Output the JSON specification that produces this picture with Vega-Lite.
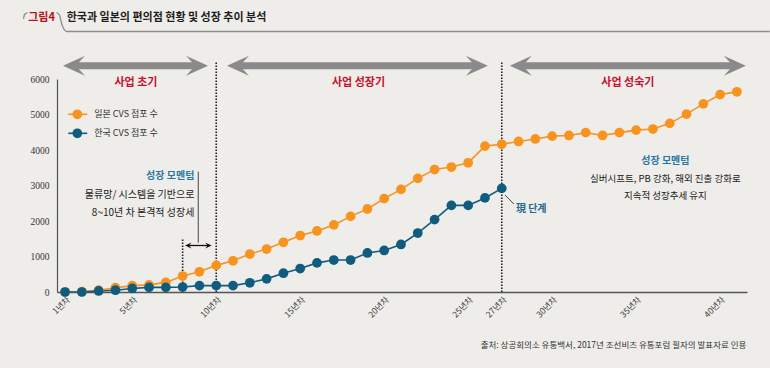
{
  "$schema": "https://vega.github.io/schema/vega-lite/v6.json",
  "autosize": {"type": "none"},
  "padding": {"left": 57, "top": 79, "right": 23, "bottom": 76},
  "width": 690,
  "height": 213,
  "background": "#eeede9",
  "config": {"view": {"stroke": null}, "font": "Noto Sans CJK KR", "axisY": {"labelOverlap": false}},
  "datasets": {
    "stores": [
      {"year": 1, "count": 0, "series": "일본 CVS 점포 수"},
      {"year": 2, "count": 10, "series": "일본 CVS 점포 수"},
      {"year": 3, "count": 50, "series": "일본 CVS 점포 수"},
      {"year": 4, "count": 120, "series": "일본 CVS 점포 수"},
      {"year": 5, "count": 180, "series": "일본 CVS 점포 수"},
      {"year": 6, "count": 200, "series": "일본 CVS 점포 수"},
      {"year": 7, "count": 270, "series": "일본 CVS 점포 수"},
      {"year": 8, "count": 450, "series": "일본 CVS 점포 수"},
      {"year": 9, "count": 570, "series": "일본 CVS 점포 수"},
      {"year": 10, "count": 750, "series": "일본 CVS 점포 수"},
      {"year": 11, "count": 880, "series": "일본 CVS 점포 수"},
      {"year": 12, "count": 1070, "series": "일본 CVS 점포 수"},
      {"year": 13, "count": 1210, "series": "일본 CVS 점포 수"},
      {"year": 14, "count": 1400, "series": "일본 CVS 점포 수"},
      {"year": 15, "count": 1590, "series": "일본 CVS 점포 수"},
      {"year": 16, "count": 1720, "series": "일본 CVS 점포 수"},
      {"year": 17, "count": 1890, "series": "일본 CVS 점포 수"},
      {"year": 18, "count": 2130, "series": "일본 CVS 점포 수"},
      {"year": 19, "count": 2340, "series": "일본 CVS 점포 수"},
      {"year": 20, "count": 2630, "series": "일본 CVS 점포 수"},
      {"year": 21, "count": 2890, "series": "일본 CVS 점포 수"},
      {"year": 22, "count": 3200, "series": "일본 CVS 점포 수"},
      {"year": 23, "count": 3450, "series": "일본 CVS 점포 수"},
      {"year": 24, "count": 3520, "series": "일본 CVS 점포 수"},
      {"year": 25, "count": 3640, "series": "일본 CVS 점포 수"},
      {"year": 26, "count": 4110, "series": "일본 CVS 점포 수"},
      {"year": 27, "count": 4160, "series": "일본 CVS 점포 수"},
      {"year": 28, "count": 4240, "series": "일본 CVS 점포 수"},
      {"year": 29, "count": 4310, "series": "일본 CVS 점포 수"},
      {"year": 30, "count": 4390, "series": "일본 CVS 점포 수"},
      {"year": 31, "count": 4410, "series": "일본 CVS 점포 수"},
      {"year": 32, "count": 4490, "series": "일본 CVS 점포 수"},
      {"year": 33, "count": 4410, "series": "일본 CVS 점포 수"},
      {"year": 34, "count": 4490, "series": "일본 CVS 점포 수"},
      {"year": 35, "count": 4560, "series": "일본 CVS 점포 수"},
      {"year": 36, "count": 4590, "series": "일본 CVS 점포 수"},
      {"year": 37, "count": 4750, "series": "일본 CVS 점포 수"},
      {"year": 38, "count": 5010, "series": "일본 CVS 점포 수"},
      {"year": 39, "count": 5300, "series": "일본 CVS 점포 수"},
      {"year": 40, "count": 5560, "series": "일본 CVS 점포 수"},
      {"year": 41, "count": 5640, "series": "일본 CVS 점포 수"},
      {"year": 1, "count": 0, "series": "한국 CVS 점포 수"},
      {"year": 2, "count": 0, "series": "한국 CVS 점포 수"},
      {"year": 3, "count": 30, "series": "한국 CVS 점포 수"},
      {"year": 4, "count": 50, "series": "한국 CVS 점포 수"},
      {"year": 5, "count": 100, "series": "한국 CVS 점포 수"},
      {"year": 6, "count": 130, "series": "한국 CVS 점포 수"},
      {"year": 7, "count": 130, "series": "한국 CVS 점포 수"},
      {"year": 8, "count": 140, "series": "한국 CVS 점포 수"},
      {"year": 9, "count": 180, "series": "한국 CVS 점포 수"},
      {"year": 10, "count": 180, "series": "한국 CVS 점포 수"},
      {"year": 11, "count": 180, "series": "한국 CVS 점포 수"},
      {"year": 12, "count": 260, "series": "한국 CVS 점포 수"},
      {"year": 13, "count": 370, "series": "한국 CVS 점포 수"},
      {"year": 14, "count": 530, "series": "한국 CVS 점포 수"},
      {"year": 15, "count": 660, "series": "한국 CVS 점포 수"},
      {"year": 16, "count": 820, "series": "한국 CVS 점포 수"},
      {"year": 17, "count": 900, "series": "한국 CVS 점포 수"},
      {"year": 18, "count": 900, "series": "한국 CVS 점포 수"},
      {"year": 19, "count": 1100, "series": "한국 CVS 점포 수"},
      {"year": 20, "count": 1170, "series": "한국 CVS 점포 수"},
      {"year": 21, "count": 1340, "series": "한국 CVS 점포 수"},
      {"year": 22, "count": 1660, "series": "한국 CVS 점포 수"},
      {"year": 23, "count": 2040, "series": "한국 CVS 점포 수"},
      {"year": 24, "count": 2440, "series": "한국 CVS 점포 수"},
      {"year": 25, "count": 2440, "series": "한국 CVS 점포 수"},
      {"year": 26, "count": 2650, "series": "한국 CVS 점포 수"},
      {"year": 27, "count": 2920, "series": "한국 CVS 점포 수"}
    ],
    "arrowBodies": [
      {"x": 1.77, "x2": 8.617, "y": 6375},
      {"x": 11.533, "x2": 25.277, "y": 6375},
      {"x": 28.373, "x2": 40.637, "y": 6375}
    ],
    "arrowHeads": [
      {"x": 0.877, "y": 6375, "dir": "L"},
      {"x": 9.51, "y": 6375, "dir": "R"},
      {"x": 10.64, "y": 6375, "dir": "L"},
      {"x": 26.17, "y": 6375, "dir": "R"},
      {"x": 27.48, "y": 6375, "dir": "L"},
      {"x": 41.53, "y": 6375, "dir": "R"}
    ],
    "dotted": [
      {"x": 10, "y": 0, "y2": 6507},
      {"x": 27, "y": 0, "y2": 6507},
      {"x": 8, "y": 0, "y2": 1493}
    ],
    "smallBody": [{"x": 8.4, "x2": 9.47, "y": 1310}],
    "smallHeads": [
      {"x": 8.14, "y": 1310, "dir": "L"},
      {"x": 9.73, "y": 1310, "dir": "R"}
    ],
    "connectors": [
      {"x": 8.93, "y": 1389, "x2": 8.93, "y2": 3389},
      {"x": 27.19, "y": 2732, "x2": 27.72, "y2": 2479}
    ],
    "legendRows": [
      {"x": 1.19, "x2": 2.32, "xp": 1.73, "xt": 2.74, "y": 5006, "series": "일본 CVS 점포 수"},
      {"x": 1.19, "x2": 2.32, "xp": 1.73, "xt": 2.74, "y": 4470, "series": "한국 CVS 점포 수"}
    ],
    "phases": [
      {"x": 5.22, "y": 5890, "label": "사업 초기"},
      {"x": 18.47, "y": 5890, "label": "사업 성장기"},
      {"x": 34.51, "y": 5890, "label": "사업 성숙기"}
    ],
    "leftHead": [{"x": 8.7, "y": 3268, "label": "성장 모멘텀"}],
    "leftBody": [
      {"x": 8.7, "y": 2732, "label": "물류망/ 시스템을 기반으로"},
      {"x": 8.7, "y": 2234, "label": "8~10년 차 본격적 성장세"}
    ],
    "rightHead": [{"x": 36.74, "y": 3704, "label": "성장 모멘텀"}],
    "rightBody": [
      {"x": 36.74, "y": 3192, "label": "실버시프트, PB 강화, 해외 진출 강화로"},
      {"x": 36.74, "y": 2704, "label": "지속적 성장추세 유지"}
    ],
    "nowLabel": [{"x": 27.84, "y": 2338, "label": "現 단계"}],
    "source": [{"x": 41.56, "y": -1493, "label": "출처: 상공회의소 유통백서, 2017년 조선비즈 유통포럼 필자의 발표자료 인용"}],
    "figLabel": [{"x": -0.403, "y": 7718, "label": "그림4"}],
    "titleText": [{"x": 1.097, "y": 7718, "label": "한국과 일본의 편의점 현황 및 성장 추이 분석"}],
    "titleLine": [
      {"x": -1.474, "y": 7690, "part": "left"},
      {"x": -1.414, "y": 7817, "part": "left"},
      {"x": -1.236, "y": 7873, "part": "left"},
      {"x": 0.49, "y": 7873, "part": "right"},
      {"x": 0.669, "y": 7803, "part": "right"},
      {"x": 0.758, "y": 7634, "part": "right"},
      {"x": 0.878, "y": 7451, "part": "right"},
      {"x": 1.115, "y": 7338, "part": "right"},
      {"x": 42.96, "y": 7338, "part": "right"}
    ]
  },
  "layer": [
    {
      "data": {"name": "titleLine"},
      "mark": {"type": "line", "interpolate": "monotone", "strokeWidth": 1.3, "color": "#8d8d8d"},
      "encoding": {
        "x": {"field": "x", "type": "quantitative", "scale": {"domain": [0.52, 41.6], "nice": false, "zero": false}, "title": null,
          "axis": {"values": [1, 5, 10, 15, 20, 25, 27, 30, 35, 40], "labelExpr": "datum.value + '년차'", "labelAngle": -45, "labelFontSize": 8.5, "labelColor": "#444444", "labelFont": "Noto Sans CJK KR", "labelOverlap": false, "ticks": false, "grid": false, "domainColor": "#555555", "domainWidth": 1.5, "labelPadding": 3}},
        "y": {"field": "y", "type": "quantitative", "scale": {"domain": [0, 6000], "nice": false}, "title": null,
          "axis": {"values": [0, 1000, 2000, 3000, 4000, 5000, 6000], "format": "d", "labelOverlap": false, "ticks": false, "grid": false, "domainColor": "#555555", "domainWidth": 1.2, "labelFontSize": 9.5, "labelColor": "#333333", "labelFont": "Liberation Sans Narrow", "labelPadding": 8}},
        "detail": {"field": "part"}
      }
    },
    {
      "data": {"name": "dotted"},
      "mark": {"type": "rule", "strokeDash": [1.5, 1.5], "strokeWidth": 1.6, "color": "#222222"},
      "encoding": {
        "x": {"field": "x", "type": "quantitative", "title": null},
        "y": {"field": "y", "type": "quantitative", "title": null, "axis": {"values": [0, 1000, 2000, 3000, 4000, 5000, 6000], "format": "d", "labelOverlap": false}},
        "y2": {"field": "y2"}
      }
    },
    {
      "data": {"name": "stores"},
      "mark": {"type": "line", "strokeWidth": 1.6, "point": {"filled": true, "size": 95, "opacity": 1}},
      "encoding": {
        "x": {"field": "year", "type": "quantitative", "title": null},
        "y": {"field": "count", "type": "quantitative", "title": null, "axis": {"values": [0, 1000, 2000, 3000, 4000, 5000, 6000], "format": "d", "labelOverlap": false}},
        "color": {"field": "series", "type": "nominal", "scale": {"domain": ["일본 CVS 점포 수", "한국 CVS 점포 수"], "range": ["#f7931e", "#0f5c7f"]}, "legend": null}
      }
    },
    {
      "data": {"name": "arrowBodies"},
      "mark": {"type": "rule", "strokeWidth": 7, "color": "#8a8a8a"},
      "encoding": {
        "x": {"field": "x", "type": "quantitative", "title": null},
        "x2": {"field": "x2"},
        "y": {"field": "y", "type": "quantitative", "title": null, "axis": {"values": [0, 1000, 2000, 3000, 4000, 5000, 6000], "format": "d", "labelOverlap": false}}
      }
    },
    {
      "data": {"name": "arrowHeads"},
      "mark": {"type": "point", "filled": true, "size": 400, "opacity": 1, "color": "#8a8a8a", "strokeWidth": 0},
      "encoding": {
        "x": {"field": "x", "type": "quantitative", "title": null},
        "y": {"field": "y", "type": "quantitative", "title": null, "axis": {"values": [0, 1000, 2000, 3000, 4000, 5000, 6000], "format": "d", "labelOverlap": false}},
        "shape": {"field": "dir", "type": "nominal", "scale": {"domain": ["L", "R"], "range": ["M0,0L2.2,-1L1.6,-0.35L1.6,0.35L2.2,1Z", "M0,0L-2.2,-1L-1.6,-0.35L-1.6,0.35L-2.2,1Z"]}, "legend": null}
      }
    },
    {
      "data": {"name": "smallBody"},
      "mark": {"type": "rule", "strokeWidth": 1.3, "color": "#111111"},
      "encoding": {
        "x": {"field": "x", "type": "quantitative", "title": null},
        "x2": {"field": "x2"},
        "y": {"field": "y", "type": "quantitative", "title": null, "axis": {"values": [0, 1000, 2000, 3000, 4000, 5000, 6000], "format": "d", "labelOverlap": false}}
      }
    },
    {
      "data": {"name": "smallHeads"},
      "mark": {"type": "point", "filled": true, "size": 36, "opacity": 1, "color": "#111111", "strokeWidth": 0},
      "encoding": {
        "x": {"field": "x", "type": "quantitative", "title": null},
        "y": {"field": "y", "type": "quantitative", "title": null, "axis": {"values": [0, 1000, 2000, 3000, 4000, 5000, 6000], "format": "d", "labelOverlap": false}},
        "shape": {"field": "dir", "type": "nominal", "legend": null}
      }
    },
    {
      "data": {"name": "connectors"},
      "mark": {"type": "rule", "strokeWidth": 0.9, "color": "#333333"},
      "encoding": {
        "x": {"field": "x", "type": "quantitative", "title": null},
        "y": {"field": "y", "type": "quantitative", "title": null, "axis": {"values": [0, 1000, 2000, 3000, 4000, 5000, 6000], "format": "d", "labelOverlap": false}},
        "x2": {"field": "x2"},
        "y2": {"field": "y2"}
      }
    },
    {
      "data": {"name": "legendRows"},
      "mark": {"type": "rule", "strokeWidth": 1.6},
      "encoding": {
        "x": {"field": "x", "type": "quantitative", "title": null},
        "x2": {"field": "x2"},
        "y": {"field": "y", "type": "quantitative", "title": null, "axis": {"values": [0, 1000, 2000, 3000, 4000, 5000, 6000], "format": "d", "labelOverlap": false}},
        "color": {"field": "series", "type": "nominal", "legend": null}
      }
    },
    {
      "data": {"name": "legendRows"},
      "mark": {"type": "point", "filled": true, "size": 95, "opacity": 1},
      "encoding": {
        "x": {"field": "xp", "type": "quantitative", "title": null},
        "y": {"field": "y", "type": "quantitative", "title": null, "axis": {"values": [0, 1000, 2000, 3000, 4000, 5000, 6000], "format": "d", "labelOverlap": false}},
        "color": {"field": "series", "type": "nominal", "legend": null}
      }
    },
    {
      "data": {"name": "legendRows"},
      "mark": {"type": "text", "align": "left", "baseline": "middle", "fontSize": 9, "color": "#333333", "font": "Liberation Sans Narrow, Noto Sans CJK KR"},
      "encoding": {
        "x": {"field": "xt", "type": "quantitative", "title": null},
        "y": {"field": "y", "type": "quantitative", "title": null, "axis": {"values": [0, 1000, 2000, 3000, 4000, 5000, 6000], "format": "d", "labelOverlap": false}},
        "text": {"field": "series"}
      }
    },
    {
      "data": {"name": "phases"},
      "mark": {"type": "text", "align": "center", "baseline": "middle", "fontSize": 11, "fontWeight": "bold", "color": "#c8102e"},
      "encoding": {
        "x": {"field": "x", "type": "quantitative", "title": null},
        "y": {"field": "y", "type": "quantitative", "title": null, "axis": {"values": [0, 1000, 2000, 3000, 4000, 5000, 6000], "format": "d", "labelOverlap": false}},
        "text": {"field": "label"}
      }
    },
    {
      "data": {"name": "leftHead"},
      "mark": {"type": "text", "align": "right", "baseline": "middle", "fontSize": 10, "fontWeight": "bold", "color": "#2a78a2"},
      "encoding": {
        "x": {"field": "x", "type": "quantitative", "title": null},
        "y": {"field": "y", "type": "quantitative", "title": null, "axis": {"values": [0, 1000, 2000, 3000, 4000, 5000, 6000], "format": "d", "labelOverlap": false}},
        "text": {"field": "label"}
      }
    },
    {
      "data": {"name": "leftBody"},
      "mark": {"type": "text", "align": "right", "baseline": "middle", "fontSize": 10, "color": "#222222", "font": "Liberation Sans Narrow, Noto Sans CJK KR"},
      "encoding": {
        "x": {"field": "x", "type": "quantitative", "title": null},
        "y": {"field": "y", "type": "quantitative", "title": null, "axis": {"values": [0, 1000, 2000, 3000, 4000, 5000, 6000], "format": "d", "labelOverlap": false}},
        "text": {"field": "label"}
      }
    },
    {
      "data": {"name": "rightHead"},
      "mark": {"type": "text", "align": "center", "baseline": "middle", "fontSize": 10, "fontWeight": "bold", "color": "#2a78a2"},
      "encoding": {
        "x": {"field": "x", "type": "quantitative", "title": null},
        "y": {"field": "y", "type": "quantitative", "title": null, "axis": {"values": [0, 1000, 2000, 3000, 4000, 5000, 6000], "format": "d", "labelOverlap": false}},
        "text": {"field": "label"}
      }
    },
    {
      "data": {"name": "rightBody"},
      "mark": {"type": "text", "align": "center", "baseline": "middle", "fontSize": 9.5, "color": "#222222", "font": "Liberation Sans Narrow, Noto Sans CJK KR"},
      "encoding": {
        "x": {"field": "x", "type": "quantitative", "title": null},
        "y": {"field": "y", "type": "quantitative", "title": null, "axis": {"values": [0, 1000, 2000, 3000, 4000, 5000, 6000], "format": "d", "labelOverlap": false}},
        "text": {"field": "label"}
      }
    },
    {
      "data": {"name": "nowLabel"},
      "mark": {"type": "text", "align": "left", "baseline": "middle", "fontSize": 10, "fontWeight": "bold", "color": "#1f6a90", "font": "Noto Sans CJK KR"},
      "encoding": {
        "x": {"field": "x", "type": "quantitative", "title": null},
        "y": {"field": "y", "type": "quantitative", "title": null, "axis": {"values": [0, 1000, 2000, 3000, 4000, 5000, 6000], "format": "d", "labelOverlap": false}},
        "text": {"field": "label"}
      }
    },
    {
      "data": {"name": "source"},
      "mark": {"type": "text", "align": "right", "baseline": "middle", "fontSize": 8.5, "color": "#333333", "font": "Liberation Sans Narrow, Noto Sans CJK KR"},
      "encoding": {
        "x": {"field": "x", "type": "quantitative", "title": null},
        "y": {"field": "y", "type": "quantitative", "title": null, "axis": {"values": [0, 1000, 2000, 3000, 4000, 5000, 6000], "format": "d", "labelOverlap": false}},
        "text": {"field": "label"}
      }
    },
    {
      "data": {"name": "figLabel"},
      "mark": {"type": "text", "align": "center", "baseline": "middle", "fontSize": 11, "fontWeight": "bold", "color": "#b5121b", "font": "Liberation Sans Narrow, Noto Sans CJK KR"},
      "encoding": {
        "x": {"field": "x", "type": "quantitative", "title": null},
        "y": {"field": "y", "type": "quantitative", "title": null, "axis": {"values": [0, 1000, 2000, 3000, 4000, 5000, 6000], "format": "d", "labelOverlap": false}},
        "text": {"field": "label"}
      }
    },
    {
      "data": {"name": "titleText"},
      "mark": {"type": "text", "align": "left", "baseline": "middle", "fontSize": 11, "fontWeight": "bold", "color": "#1e1e1e"},
      "encoding": {
        "x": {"field": "x", "type": "quantitative", "title": null},
        "y": {"field": "y", "type": "quantitative", "title": null, "axis": {"values": [0, 1000, 2000, 3000, 4000, 5000, 6000], "format": "d", "labelOverlap": false}},
        "text": {"field": "label"}
      }
    }
  ]
}
